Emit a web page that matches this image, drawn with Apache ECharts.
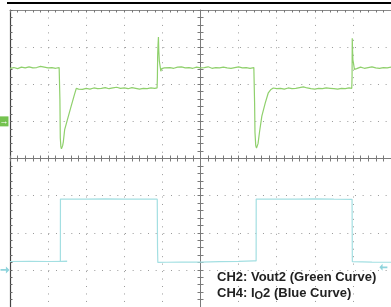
<!DOCTYPE html>
<html>
<head>
<meta charset="utf-8">
<script src="https://cdn.jsdelivr.net/npm/echarts@6/dist/echarts.min.js"></script>
<style>
html,body{margin:0;padding:0;background:#ffffff;}
#c{width:391px;height:307px;}
</style>
</head>
<body>
<div id="c"></div>
<script>
// Time in screen divisions (-5..5), amplitude in divisions (-4..4)
const greenT = [-5.00,-4.90,-4.80,-4.70,-4.60,-4.50,-4.40,-4.30,-4.20,-4.10,-4.00,-3.90,-3.80,-3.71,
  -3.698,-3.69,-3.68,-3.665,-3.65,-3.635,-3.62,-3.60,-3.565,-3.50,-3.40,-3.32,-3.26,-3.20,
  -3.10,-3.00,-2.90,-2.80,-2.70,-2.60,-2.50,-2.40,-2.30,-2.20,-2.10,-2.00,-1.90,-1.80,-1.70,-1.60,-1.50,-1.40,-1.30,-1.20,-1.14,
  -1.131,-1.125,-1.115,-1.104,-1.095,-1.08,-1.068,-1.055,-1.042,-1.02,-1.00,-0.95,-0.90,
  -0.80,-0.70,-0.60,-0.50,-0.40,-0.30,-0.20,-0.10,0.00,0.10,0.20,0.30,0.40,0.50,0.60,0.70,0.80,0.90,1.00,1.10,1.20,1.30,1.40,
  1.412,1.42,1.43,1.45,1.47,1.485,1.496,1.51,1.55,1.61,1.70,1.78,1.85,1.91,
  2.00,2.10,2.20,2.30,2.40,2.50,2.60,2.70,2.80,2.90,3.00,3.10,3.20,3.30,3.40,3.50,3.60,3.70,3.80,3.90,3.97,
  3.978,3.983,3.99,4.00,4.018,4.04,4.07,4.10,4.13,4.20,4.30,4.40,4.50,4.60,4.70,4.80,4.90,5.00];
const greenV = [2.43,2.45,2.42,2.46,2.44,2.47,2.44,2.45,2.48,2.46,2.44,2.45,2.43,2.45,
  2.44,1.60,0.55,0.32,0.26,0.25,0.34,0.45,0.78,1.02,1.39,1.68,1.89,1.87,
  1.86,1.89,1.87,1.90,1.88,1.89,1.91,1.88,1.90,1.92,1.89,1.90,1.88,1.91,1.89,1.87,1.89,1.88,1.90,1.89,1.90,
  2.20,2.75,3.05,3.27,2.90,2.62,2.66,2.45,2.35,2.42,2.38,2.44,2.41,
  2.45,2.43,2.46,2.47,2.44,2.45,2.43,2.46,2.44,2.45,2.47,2.43,2.45,2.44,2.46,2.44,2.43,2.45,2.47,2.44,2.45,2.43,2.45,
  2.44,1.50,0.70,0.35,0.28,0.24,0.25,0.40,0.72,1.14,1.50,1.77,1.86,1.90,
  1.88,1.89,1.87,1.90,1.88,1.89,1.91,1.93,1.90,1.88,1.87,1.89,1.88,1.90,1.89,1.88,1.87,1.89,1.88,1.90,1.89,
  2.20,3.24,2.95,2.66,2.55,2.40,2.35,2.42,2.44,2.46,2.43,2.45,2.47,2.44,2.43,2.45,2.44,2.46];

const blueT = [-5.00,-4.50,-4.00,-3.50,-3.678,-3.676,-3.40,-3.00,-2.50,-2.00,-1.50,-1.135,-1.128,-1.12,-0.90,-0.50,0.00,0.50,1.00,1.40,1.460,1.462,1.70,2.00,2.50,3.00,3.50,3.978,3.985,4.00,4.50,5.00];
const blueV = [-2.775,-2.770,-2.775,-2.772,-2.775,-1.094,-1.092,-1.094,-1.090,-1.094,-1.092,-1.095,-2.40,-2.80,-2.795,-2.790,-2.790,-2.780,-2.770,-2.760,-2.760,-1.094,-1.092,-1.094,-1.094,-1.090,-1.096,-1.100,-2.780,-2.790,-2.790,-2.795];

const divX = [-5, 5];
const divY = [-4, 4];
const legendLine1 = 'CH2: Vout2 (Green Curve)';
const legendLine2a = 'CH4: I';
const legendLine2sub = 'O';
const legendLine2b = '2 (Blue Curve)';

const toPairs = (t, v) => t.map((x, i) => [x, v[i]]);

const chart = echarts.init(document.getElementById('c'), null, {renderer: 'canvas'});

function xAx(extra) {
  return Object.assign({
    type: 'value', min: divX[0], max: divX[1], interval: 1,
    axisLabel: {show: false},
    splitLine: {show: false},
    minorSplitLine: {show: false}
  }, extra);
}
function yAx(extra) {
  return Object.assign({
    type: 'value', min: divY[0], max: divY[1], interval: 1,
    axisLabel: {show: false},
    splitLine: {show: false},
    minorSplitLine: {show: false}
  }, extra);
}
const centerCol = '#7a7a7a';
const option = {
  animation: false,
  backgroundColor: '#ffffff',
  grid: {left: 10, top: 10, width: 383.3, height: 298.4, show: false, containLabel: false},
  xAxis: [
    xAx({position: 'bottom',
      axisLine: {show: true, onZero: true, onZeroAxisIndex: 0, lineStyle: {color: centerCol, width: 1}},
      axisTick: {show: true, inside: false, length: 3, lineStyle: {color: centerCol}},
      minorTick: {show: true, splitNumber: 5, length: 3, lineStyle: {color: centerCol}},
      splitLine: {show: true, lineStyle: {color: '#9a9a9a', width: 1, type: [1, 6.46]}}}),
    xAx({position: 'top',
      axisLine: {show: false, onZero: true, onZeroAxisIndex: 0},
      axisTick: {show: true, inside: false, length: 3, lineStyle: {color: centerCol}},
      minorTick: {show: true, splitNumber: 5, length: 3, lineStyle: {color: centerCol}}}),
    xAx({position: 'top',
      axisLine: {show: true, onZero: false, lineStyle: {color: '#8a8a8a', width: 1}},
      axisTick: {show: true, inside: true, length: 2.5, lineStyle: {color: '#777'}},
      minorTick: {show: true, splitNumber: 5, length: 2.5, lineStyle: {color: '#777'}}})
  ],
  yAxis: [
    yAx({position: 'left',
      axisLine: {show: true, onZero: true, onZeroAxisIndex: 0, lineStyle: {color: centerCol, width: 1}},
      axisTick: {show: true, inside: false, length: 3, lineStyle: {color: centerCol}},
      minorTick: {show: true, splitNumber: 5, length: 3, lineStyle: {color: centerCol}},
      splitLine: {show: true, lineStyle: {color: '#9a9a9a', width: 1, type: [1, 6.666]}}}),
    yAx({position: 'right',
      axisLine: {show: false, onZero: true, onZeroAxisIndex: 0},
      axisTick: {show: true, inside: false, length: 3, lineStyle: {color: centerCol}},
      minorTick: {show: true, splitNumber: 5, length: 3, lineStyle: {color: centerCol}}}),
    yAx({position: 'left',
      axisLine: {show: true, onZero: false, lineStyle: {color: '#444', width: 1.2}},
      axisTick: {show: true, inside: true, length: 2.5, lineStyle: {color: '#666'}},
      minorTick: {show: true, splitNumber: 5, length: 2.5, lineStyle: {color: '#666'}}})
  ],
  series: [
    {
      type: 'line', name: 'CH2', xAxisIndex: 0, yAxisIndex: 0,
      data: toPairs(greenT, greenV), showSymbol: false, symbol: 'none',
      lineStyle: {color: '#8fd06c', width: 1.2}, clip: false, z: 5,
      markPoint: {
        silent: true,
        data: [{
          coord: [divX[0], 1], symbol: 'rect', symbolSize: [9, 10], symbolOffset: [-6, 0],
          itemStyle: {color: '#74c24f'},
          label: {show: true, formatter: '→', color: '#ffffff', fontSize: 9, fontWeight: 'bold', position: 'inside'}
        }]
      }
    },
    {
      type: 'line', name: 'CH4', xAxisIndex: 0, yAxisIndex: 0,
      data: toPairs(blueT, blueV), showSymbol: false, symbol: 'none',
      lineStyle: {color: '#a3dfe2', width: 1.2}, clip: false, z: 5,
      markPoint: {
        silent: true,
        label: {show: false},
        data: [
          {coord: [divX[0], -3], symbol: 'path://M0,3 L6,3 L6,0 L10,4 L6,8 L6,5 L0,5 Z', symbolSize: [9, 7], symbolOffset: [-5, 0], itemStyle: {color: '#8fd4dc'}},
          {coord: [4.8, -2.93], symbol: 'path://M10,3 L4,3 L4,0 L0,4 L4,8 L4,5 L10,5 Z', symbolSize: [8, 7], symbolOffset: [0, 0], itemStyle: {color: '#8fd4dc'}}
        ]
      }
    }
  ],
  graphic: [
    {type: 'rect', left: 7, top: 2, shape: {width: 384, height: 2}, style: {fill: '#000000'}, z: 10},
    {type: 'text', left: 217, top: 271, z: 20,
      style: {
        text: '{a|' + legendLine1 + '}\n{a|' + legendLine2a + '}{s|' + legendLine2sub + '}{a|' + legendLine2b + '}',
        rich: {
          a: {fontSize: 13, fontWeight: 'bold', fontFamily: 'Liberation Sans, Arial, sans-serif', fill: '#222222', lineHeight: 16},
          s: {fontSize: 11, fontWeight: 'bold', fontFamily: 'Liberation Sans, Arial, sans-serif', fill: '#222222', lineHeight: 10, verticalAlign: 'bottom'}
        }
      }
    }
  ]
};
chart.setOption(option);
</script>
</body>
</html>
